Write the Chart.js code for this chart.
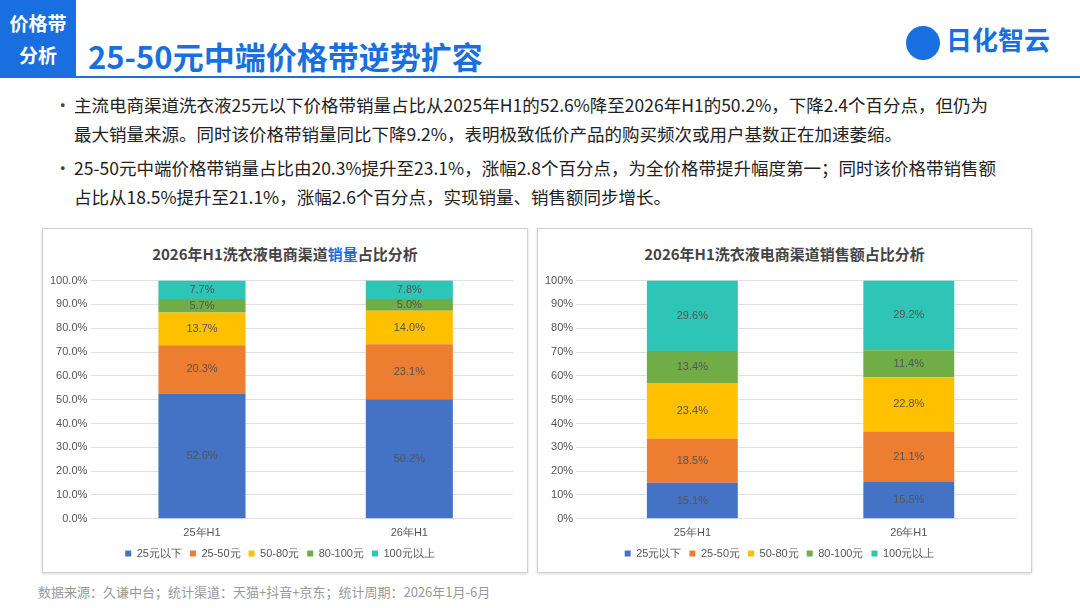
<!DOCTYPE html>
<html><head><meta charset="utf-8">
<script src="https://cdn.jsdelivr.net/npm/chart.js@4/dist/chart.umd.min.js"></script>
<style>
body{margin:0;width:1080px;height:608px;background:#fff;font-family:"Noto Sans CJK SC","Noto Sans",sans-serif;position:relative;overflow:hidden}
.tag{position:absolute;left:0;top:0;width:76px;height:78px;background:#1a6fe0;color:#fff;font-weight:bold;font-size:19px;line-height:32px;text-align:center;padding-top:7px;box-sizing:border-box}
.title{position:absolute;left:88px;top:32px;font-size:31px;font-weight:bold;color:#1a6fe0;line-height:48px}
.rule{position:absolute;left:76px;right:0;top:76px;height:2px;background:#1a6fe0}
.logo{position:absolute;right:30px;top:20px;font-size:26px;color:#1a6fe0;font-weight:bold}
.logo span{display:inline-block;width:34px;height:34px;border-radius:50%;background:#1a6fe0;vertical-align:middle;margin-right:6px}
ul{position:absolute;left:52px;top:90px;width:930px;margin:0;padding-left:22px;font-size:17.5px;color:#222;line-height:29px;list-style:none}
li{margin-bottom:5px;position:relative}
li:before{content:"•";position:absolute;left:-20px;color:#444}
.panel{position:absolute;top:228px;height:343px;border:1px solid #d0d0d0;box-shadow:0 1px 3px rgba(0,0,0,.15);background:#fff}
.ptitle{position:absolute;top:14px;width:100%;text-align:center;font-size:15px;font-weight:bold;color:#444}
.src{position:absolute;left:38px;top:582px;font-size:13px;color:#999}
</style></head><body>
<div class="tag">价格带<br>分析</div>
<div class="title">25-50元中端价格带逆势扩容</div>
<div class="rule"></div>
<div class="logo"><span></span>日化智云</div>
<ul>
<li>主流电商渠道洗衣液25元以下价格带销量占比从2025年H1的52.6%降至2026年H1的50.2%，下降2.4个百分点，但仍为最大销量来源。同时该价格带销量同比下降9.2%，表明极致低价产品的购买频次或用户基数正在加速萎缩。</li>
<li>25-50元中端价格带销量占比由20.3%提升至23.1%，涨幅2.8个百分点，为全价格带提升幅度第一；同时该价格带销售额占比从18.5%提升至21.1%，涨幅2.6个百分点，实现销量、销售额同步增长。</li>
</ul>
<div class="panel" style="left:42px;width:484px"><div class="ptitle">2026年H1洗衣液电商渠道<span style="color:#1a6fe0">销量</span>占比分析</div>
<canvas id="c1" style="position:absolute;left:4px;top:42px" width="476" height="298"></canvas></div>
<div class="panel" style="left:537px;width:493px"><div class="ptitle">2026年H1洗衣液电商渠道销售额占比分析</div>
<canvas id="c2" style="position:absolute;left:4px;top:42px" width="485" height="298"></canvas></div>
<div class="src">数据来源：久谦中台；统计渠道：天猫+抖音+京东；统计周期：2026年1月-6月</div>
<script>
const periods = ['25年H1', '26年H1'];
const bands = ['25元以下', '25-50元', '50-80元', '80-100元', '100元以上'];
const colors = ['#4472C4', '#ED7D31', '#FFC000', '#70AD47', '#2EC4B6'];
// volume share by band, [25H1, 26H1]
const volume = [[52.6, 50.2], [20.3, 23.1], [13.7, 14.0], [5.7, 5.0], [7.7, 7.8]];
// sales share by band
const sales = [[15.1, 15.5], [18.5, 21.1], [23.4, 22.8], [13.4, 11.4], [29.6, 29.2]];

const centerLabels = {
  id: 'centerLabels',
  afterDatasetsDraw(chart) {
    const c = chart.ctx;
    c.save();
    c.font = '11px "Liberation Sans", sans-serif';
    c.fillStyle = '#555';
    c.textAlign = 'center';
    c.textBaseline = 'middle';
    chart.data.datasets.forEach((ds, i) => {
      chart.getDatasetMeta(i).data.forEach((bar, j) => {
        c.fillText(ds.data[j].toFixed(1) + '%', bar.x, (bar.y + bar.base) / 2);
      });
    });
    c.restore();
  }
};

function makeChart(id, values, decimals) {
  new Chart(document.getElementById(id), {
    type: 'bar',
    data: {
      labels: periods,
      datasets: bands.map((b, i) => ({
        label: b, data: values[i], backgroundColor: colors[i],
        barPercentage: 0.42, categoryPercentage: 1
      }))
    },
    options: {
      responsive: false, animation: false,
      layout: { padding: { top: 4, right: 10, bottom: 0 } },
      scales: {
        x: { stacked: true, grid: { display: false }, border: { display: false },
             ticks: { color: '#555', font: { size: 11 }, padding: 0 } },
        y: { stacked: true, min: 0, max: 100,
             ticks: { stepSize: 10, color: '#555', font: { size: 11 },
                      callback: v => v.toFixed(decimals) + '%' },
             grid: { color: '#e0e0e0' }, border: { display: false } }
      },
      plugins: {
        legend: { position: 'bottom',
                  labels: { boxWidth: 6, boxHeight: 6, color: '#555', font: { size: 11 }, padding: 8 } },
        tooltip: { enabled: false }
      }
    },
    plugins: [centerLabels]
  });
}
makeChart('c1', volume, 1);
makeChart('c2', sales, 0);
</script>
</body></html>
